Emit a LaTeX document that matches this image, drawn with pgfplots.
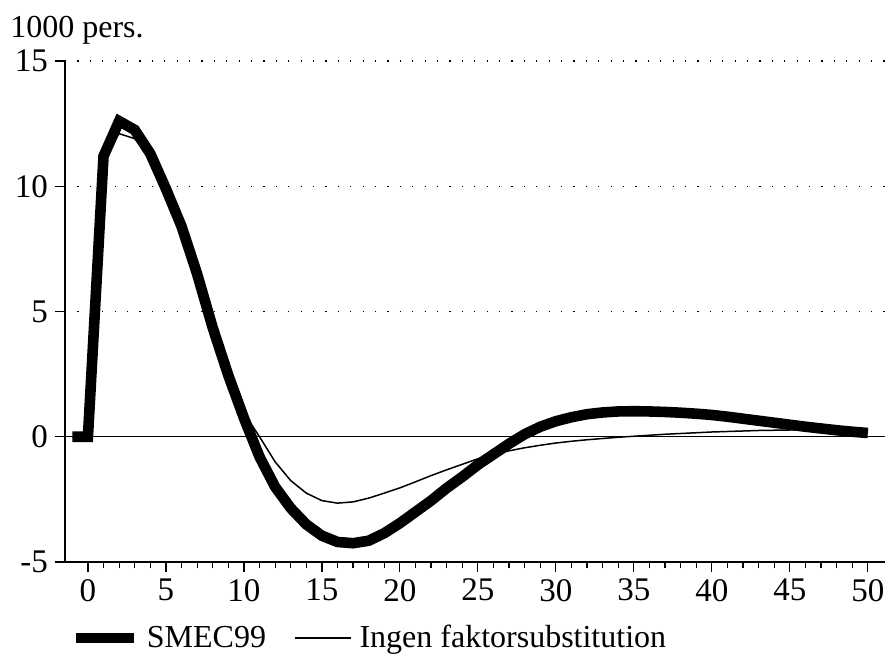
\documentclass[border=0pt]{standalone}
\usepackage{fontspec}
\setmainfont{Liberation Serif}
\usepackage{pgfplots}
\pgfplotsset{compat=1.18}

\begin{document}
\begin{tikzpicture}
\begin{axis}[
    scale only axis,
    width=410pt, height=250.5pt,
    xmin=-1.47, xmax=51.1,
    ymin=-5, ymax=15,
    axis x line*=bottom,
    axis y line*=left,
    axis line style={line width=0.7pt},
    xtick={0,5,...,50},
    minor x tick num=4,
    ytick={-5,0,5,10,15},
    tick align=outside,
    major tick length=5pt,
    minor tick length=3pt,
    tick style={black, line width=0.6pt},
    ymajorgrids,
    grid style={black, line width=0.6pt, dash pattern=on 0.6pt off 5.6pt},
    extra y ticks={0},
    extra y tick labels={},
    extra y tick style={grid style={solid, line width=0.6pt}, major tick length=0pt},
    /pgf/number format/assume math mode=true,
    tick label style={font=\fontsize{16.5}{19}\selectfont},
    clip=false,
    legend columns=2,
    legend style={at={(0.006,-0.152)}, anchor=west, draw=none, fill=none,
        inner sep=0pt, font=\fontsize{16}{19}\selectfont,
        /tikz/every odd column/.style={column sep=2pt},
        /tikz/every even column/.style={column sep=12pt}},
    legend cell align=left,
]
\addplot[black, line width=5.3pt, legend image code/.code={\draw[black, line width=5.3pt] (0pt,0pt) -- (29pt,0pt);}] coordinates {
    (-1,0) (0,0) (1,11.2) (2,12.6) (3,12.25) (4,11.3) (5,9.9) (6,8.4) (7,6.5)
    (8,4.35) (9,2.45) (10,0.75) (11,-0.8) (12,-2.0) (13,-2.85) (14,-3.5)
    (15,-3.95) (16,-4.2) (17,-4.25) (18,-4.15) (19,-3.85) (20,-3.45)
    (21,-3.0) (22,-2.55) (23,-2.05) (24,-1.6) (25,-1.12) (26,-0.7) (27,-0.28)
    (28,0.1) (29,0.4) (30,0.62) (31,0.78) (32,0.9) (33,0.97) (34,1.01)
    (35,1.02) (36,1.01) (37,0.99) (38,0.96) (39,0.92) (40,0.87) (41,0.8)
    (42,0.72) (43,0.64) (44,0.56) (45,0.48) (46,0.4) (47,0.33) (48,0.26)
    (49,0.2) (50,0.15)
};
\addlegendentry{SMEC99}
\addplot[black, line width=0.75pt, legend image code/.code={\draw[black, line width=0.75pt] (0pt,0pt) -- (28pt,0pt);}] coordinates {
    (-1,0) (0,0) (1,11.2) (2,12.1) (3,11.9) (4,11.2) (5,9.9) (6,8.4) (7,6.5)
    (8,4.4) (9,2.55) (10,0.95) (11,0.0) (12,-1.0) (13,-1.75) (14,-2.25)
    (15,-2.55) (16,-2.65) (17,-2.6) (18,-2.45) (19,-2.25) (20,-2.04)
    (21,-1.8) (22,-1.55) (23,-1.32) (24,-1.1) (25,-0.88) (26,-0.72)
    (27,-0.56) (28,-0.44) (29,-0.34) (30,-0.25) (31,-0.18) (32,-0.12)
    (33,-0.07) (34,-0.02) (35,0.02) (36,0.06) (37,0.1) (38,0.13) (39,0.16)
    (40,0.19) (41,0.21) (42,0.23) (43,0.25) (44,0.26) (45,0.27) (46,0.27)
    (47,0.27) (48,0.26) (49,0.25) (50,0.24)
};
\addlegendentry{Ingen faktorsubstitution}
\node[anchor=south west, inner sep=0pt, font=\fontsize{16}{19}\selectfont]
    at (rel axis cs:0,1) [xshift=-27.5pt, yshift=8pt] {1000 pers.};
\end{axis}
\pgfresetboundingbox
\path[use as bounding box] (-32.5pt,-48.5pt) rectangle (412pt,281pt);
\end{tikzpicture}
\end{document}
